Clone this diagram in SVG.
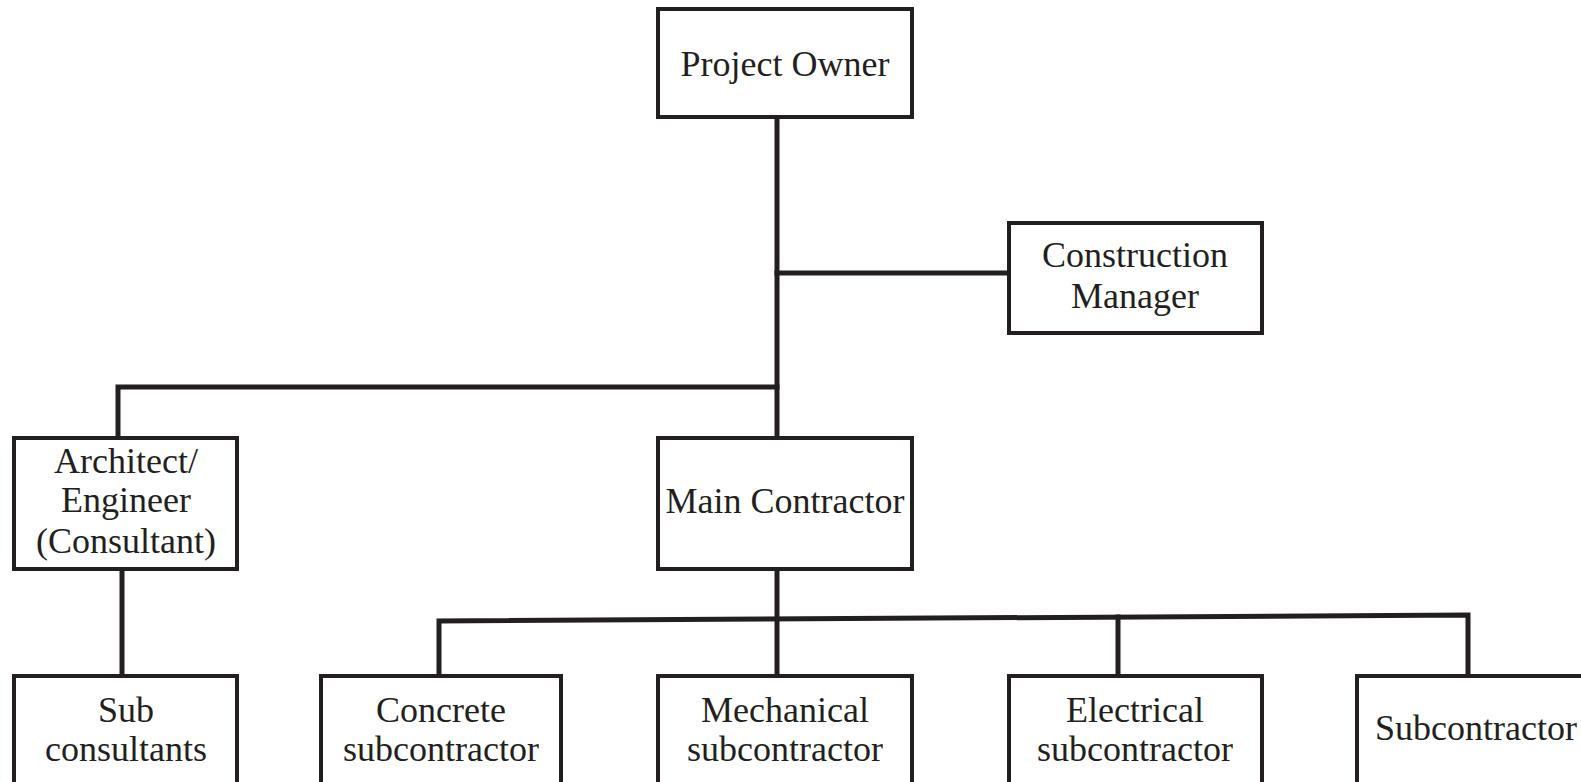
<svg xmlns="http://www.w3.org/2000/svg" width="1581" height="782" viewBox="0 0 1581 782">
<style>
.box{fill:#ffffff;stroke:#231f20;stroke-width:4}
.lbl{font-family:"Liberation Serif","Times New Roman",serif;font-size:36px;fill:#231f20;text-anchor:middle}
.con{fill:none;stroke:#231f20;stroke-width:5;stroke-linecap:square;stroke-linejoin:miter}
</style>
<rect width="1581" height="782" fill="#ffffff"/>
<g id="connectors">
<path class="con" d="M777 117 V438"/>
<path class="con" d="M777 273 H1009"/>
<path class="con" d="M118 438 V387 H777"/>
<path class="con" d="M122 569 V676"/>
<path class="con" d="M777 569 V676"/>
<path class="con" d="M439 676 V621 L1468 615 V676"/>
<path class="con" d="M1118 617 V676"/>
</g>
<g id="project-owner">
<rect class="box" x="658" y="9" width="254" height="108"/>
<text class="lbl" x="785" y="76">Project Owner</text>
</g>
<g id="construction-manager">
<rect class="box" x="1009" y="223" width="253" height="110"/>
<text class="lbl" x="1135" y="267">Construction</text>
<text class="lbl" x="1135" y="308">Manager</text>
</g>
<g id="architect-engineer">
<rect class="box" x="14" y="438" width="223" height="131"/>
<text class="lbl" x="126" y="473">Architect/</text>
<text class="lbl" x="126" y="512">Engineer</text>
<text class="lbl" x="126" y="553">(Consultant)</text>
</g>
<g id="main-contractor">
<rect class="box" x="658" y="438" width="254" height="131"/>
<text class="lbl" x="785" y="513">Main Contractor</text>
</g>
<g id="sub-consultants">
<rect class="box" x="14" y="676" width="223" height="130"/>
<text class="lbl" x="126" y="722">Sub</text>
<text class="lbl" x="126" y="761">consultants</text>
</g>
<g id="concrete-subcontractor">
<rect class="box" x="321" y="676" width="240" height="130"/>
<text class="lbl" x="441" y="722">Concrete</text>
<text class="lbl" x="441" y="761">subcontractor</text>
</g>
<g id="mechanical-subcontractor">
<rect class="box" x="658" y="676" width="254" height="130"/>
<text class="lbl" x="785" y="722">Mechanical</text>
<text class="lbl" x="785" y="761">subcontractor</text>
</g>
<g id="electrical-subcontractor">
<rect class="box" x="1009" y="676" width="253" height="130"/>
<text class="lbl" x="1135" y="722">Electrical</text>
<text class="lbl" x="1135" y="761">subcontractor</text>
</g>
<g id="subcontractor">
<rect class="box" x="1357" y="676" width="260" height="130"/>
<text class="lbl" x="1476" y="740">Subcontractor</text>
</g>
</svg>
